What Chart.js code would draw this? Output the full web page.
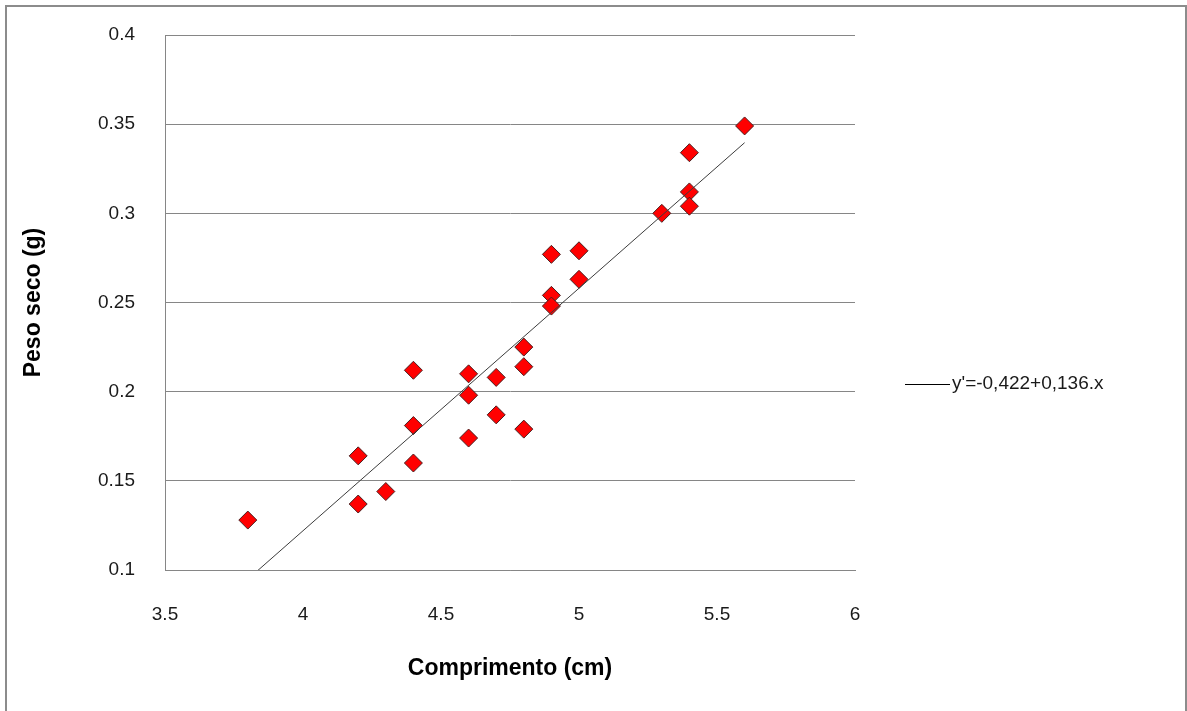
<!DOCTYPE html>
<html>
<head>
<meta charset="utf-8">
<script src="https://cdn.jsdelivr.net/npm/chart.js@4/dist/chart.umd.min.js"></script>
<style>
  html, body { margin: 0; padding: 0; background: #ffffff; }
  #c { display: block; }
</style>
</head>
<body>
<canvas id="c" width="1187" height="711"></canvas>
<script>
// ---- data ----
const comprimento = [3.8, 4.2, 4.2, 4.3, 4.4, 4.4, 4.4, 4.6, 4.6, 4.6, 4.7, 4.7, 4.8, 4.8, 4.8, 4.9, 4.9, 4.9, 5.0, 5.0, 5.3, 5.4, 5.4, 5.4, 5.6];
const pesoSeco    = [0.128, 0.164, 0.137, 0.144, 0.212, 0.181, 0.160, 0.210, 0.198, 0.174, 0.208, 0.187, 0.225, 0.214, 0.179, 0.277, 0.254, 0.248, 0.279, 0.263, 0.300, 0.334, 0.312, 0.304, 0.349];
const trendIntercept = -0.422;
const trendSlope = 0.136;
const trendRangeX = [3.8, 5.6];
const trendLabel = "y'=-0,422+0,136.x";
const xTitle = "Comprimento (cm)";
const yTitle = "Peso seco (g)";
const xTicks = [3.5, 4, 4.5, 5, 5.5, 6];
const yTicks = [0.1, 0.15, 0.2, 0.25, 0.3, 0.35, 0.4];

const FONT = "'Liberation Sans', Arial, sans-serif";

const scatterPts = comprimento.map((x, i) => ({ x: x, y: pesoSeco[i] }));
const trendPts = trendRangeX.map(x => ({ x: x, y: trendIntercept + trendSlope * x }));

const framePlugin = {
  id: 'frame',
  beforeDraw(chart) {
    const ctx = chart.ctx;
    ctx.save();
    ctx.fillStyle = '#ffffff';
    ctx.fillRect(0, 0, chart.width, chart.height);
    ctx.strokeStyle = '#8c8c8c';
    ctx.lineWidth = 2;
    ctx.strokeRect(6, 6, chart.width - 7, chart.height + 10);
    ctx.restore();
  },
  afterDraw(chart) {
    const ctx = chart.ctx;
    ctx.save();
    const y = 384;
    ctx.strokeStyle = '#000000';
    ctx.lineWidth = 1;
    ctx.beginPath();
    ctx.moveTo(905, y + 0.5);
    ctx.lineTo(950, y + 0.5);
    ctx.stroke();
    ctx.fillStyle = '#1a1a1a';
    ctx.font = '19px ' + FONT;
    ctx.textBaseline = 'middle';
    ctx.textAlign = 'left';
    ctx.fillText(chart.data.datasets[0].label, 952, y);
    ctx.restore();
  }
};

new Chart(document.getElementById('c'), {
  type: 'scatter',
  data: {
    datasets: [
      {
        type: 'line',
        label: trendLabel,
        data: trendPts,
        borderColor: '#3c3c3c',
        borderWidth: 1,
        pointRadius: 0,
        fill: false,
        tension: 0
      },
      {
        label: 'Peso seco',
        data: scatterPts,
        pointStyle: 'rectRot',
        pointRadius: 9,
        pointHoverRadius: 9,
        backgroundColor: '#ff0000',
        borderColor: '#4a2020',
        borderWidth: 1
      }
    ]
  },
  options: {
    responsive: false,
    animation: false,
    devicePixelRatio: 1,
    layout: { padding: { top: 35, right: 332, left: 0, bottom: 0 } },
    plugins: {
      legend: { display: false },
      tooltip: { enabled: false }
    },
    scales: {
      x: {
        type: 'linear',
        min: xTicks[0],
        max: xTicks[xTicks.length - 1],
        afterBuildTicks(scale) { scale.ticks = xTicks.map(v => ({ value: v })); },
        afterFit(scale) { scale.height = 141; scale.paddingLeft = 12; scale.paddingRight = 12; },
        grid: { display: false, drawTicks: false },
        border: { display: true, color: '#868686', width: 1 },
        ticks: {
          padding: 33,
          color: '#1a1a1a',
          font: { family: FONT, size: 19 },
          maxRotation: 0,
          callback: v => String(Number(v.toFixed(2)))
        },
        title: {
          display: true,
          text: xTitle,
          color: '#000000',
          font: { family: FONT, size: 23, weight: 'bold' },
          padding: { top: 0, bottom: 29 }
        }
      },
      y: {
        type: 'linear',
        min: yTicks[0],
        max: yTicks[yTicks.length - 1],
        afterBuildTicks(scale) { scale.ticks = yTicks.map(v => ({ value: v })); },
        afterFit(scale) { scale.width = 165; scale.paddingTop = 12; scale.paddingBottom = 12; },
        grid: { display: true, drawTicks: false, color: '#868686', lineWidth: 1 },
        border: { display: true, color: '#868686', width: 1 },
        ticks: {
          padding: 30,
          color: '#1a1a1a',
          font: { family: FONT, size: 19 },
          callback: v => String(Number(v.toFixed(2)))
        },
        title: {
          display: true,
          text: yTitle,
          color: '#000000',
          font: { family: FONT, size: 23, weight: 'bold' },
          padding: { top: 20, bottom: 0 }
        }
      }
    }
  },
  plugins: [framePlugin]
});
</script>
</body>
</html>
